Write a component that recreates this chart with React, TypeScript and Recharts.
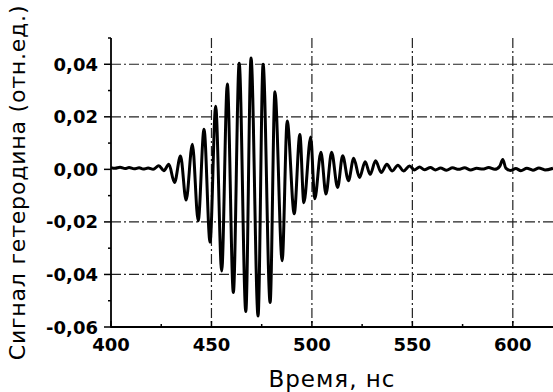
import React from 'react';
import { LineChart, Line, XAxis, YAxis, CartesianGrid } from 'recharts';

const timeNs = [
  400, 402, 404.5, 407, 409, 411.5, 414, 416, 418.5, 421,
  423.8, 426.3, 428.8, 431.6, 434.6, 437.4, 440.5, 443.4, 446.3, 449.3,
  452.1, 455.1, 457.9, 460.9, 463.8, 467.1, 469.7, 473.2, 475.7, 479.2,
  481.6, 485.2, 487.7, 491.2, 494.0, 496.0, 499.4, 501.4, 504.5, 507.0,
  509.8, 512.8, 515.3, 518.2, 520.8, 523.7, 526.5, 529.0, 531.7, 534.5,
  537.3, 540.0, 542.8, 545.6, 548.6, 551.1, 553.6, 556, 559, 561.5,
  564, 567, 570, 573, 576, 579, 582, 585, 588, 591,
  593.5, 595, 596.5, 599, 601.5, 604, 607, 610, 613, 616, 620,
];

const signal = [
  0.0006, 0.0004, 0.0008, 0.0003, 0.0007, 0.0002, 0.0006, 0.0001, 0.0005, 0.0,
  0.0014, -0.0005, 0.0019, -0.005, 0.0051, -0.0117, 0.0096, -0.0196, 0.0153, -0.0277,
  0.024, -0.0387, 0.0325, -0.0469, 0.0404, -0.0541, 0.0424, -0.0558, 0.04, -0.0507,
  0.0295, -0.0348, 0.0184, -0.0169, 0.0133, -0.0127, 0.0123, -0.0112, 0.0065, -0.0094,
  0.0065, -0.0069, 0.0052, -0.0043, 0.0042, -0.0031, 0.0029, -0.0019, 0.0033, -0.0012,
  0.0019, -0.0006, 0.0016, -0.0006, 0.0013, -0.0002, 0.0009, -0.0001, 0.0007, -0.0002,
  0.0005, -0.0003, 0.0006, 0.0, 0.0006, -0.0002, 0.0004, 0.0001, 0.0007, 0.0,
  0.0012, 0.0038, 0.0005, -0.0004, 0.0003, -0.0005, 0.0004, -0.0003, 0.0005, -0.0002, 0.0004,
];

const xTicks = [400, 425, 450, 475, 500, 525, 550, 575, 600];
const xLabels = [400, 450, 500, 550, 600];
const yTicks = [-0.06, -0.05, -0.04, -0.03, -0.02, -0.01, 0, 0.01, 0.02, 0.03, 0.04, 0.05];
const yLabels = [-0.06, -0.04, -0.02, 0, 0.02, 0.04];
const xGrid = [450, 500, 550, 600];
const yGrid = [-0.04, -0.02, 0.02, 0.04];
const xTitle = 'Время, нс';
const yTitle = 'Сигнал гетеродина (отн.ед.)';

const data = timeNs.map((t, i) => ({ t, v: signal[i] }));

const FONT = '"DejaVu Sans", sans-serif';

const XTick = (props: any) => {
  const { x, y, payload } = props;
  const major = xLabels.includes(payload.value);
  return (
    <g>
      <line x1={x} x2={x} y1={y + 1} y2={y - (major ? 6 : 3)} stroke="#000" strokeWidth={1.5} />
      {major && (
        <text x={x} y={y + 24} textAnchor="middle" fontFamily={FONT} fontWeight="bold" fontSize={18} fill="#000">
          {payload.value}
        </text>
      )}
    </g>
  );
};

const YTick = (props: any) => {
  const { x, y, payload } = props;
  const major = yLabels.some((l) => Math.abs(l - payload.value) < 1e-9);
  return (
    <g>
      <line x1={x} x2={x - (major ? 7 : 3)} y1={y} y2={y} stroke="#000" strokeWidth={1.5} />
      {major && (
        <text x={x - 13} y={y + 6.5} textAnchor="end" fontFamily={FONT} fontWeight="bold" fontSize={18} fill="#000">
          {payload.value.toFixed(2).replace('.', ',')}
        </text>
      )}
    </g>
  );
};

export default function App() {
  return (
    <div style={{ position: 'absolute', left: 0, top: 0, width: 553, height: 392, background: '#fff' }}>
      <LineChart width={553} height={392} data={data} margin={{ top: 38, right: 0, bottom: 35, left: 0 }}>
        <CartesianGrid
          horizontalValues={yGrid}
          verticalValues={xGrid}
          stroke="#222"
          strokeWidth={1.2}
          strokeDasharray="10 3 2 3"
        />
        <XAxis
          dataKey="t"
          type="number"
          domain={[400, 620]}
          allowDataOverflow
          ticks={xTicks}
          interval={0}
          height={30}
          tickSize={0}
          tickMargin={0}
          tickLine={false}
          tick={<XTick />}
          axisLine={{ stroke: '#000', strokeWidth: 1.8 }}
          label={{
            value: xTitle,
            position: 'bottom',
            offset: 14,
            style: { fontFamily: FONT, fontSize: 23, letterSpacing: 1, fill: '#000', textAnchor: 'middle' },
          }}
        />
        <YAxis
          type="number"
          domain={[-0.06, 0.05]}
          allowDataOverflow
          ticks={yTicks}
          interval={0}
          width={111}
          tickSize={0}
          tickMargin={0}
          tickLine={false}
          tick={<YTick />}
          axisLine={{ stroke: '#000', strokeWidth: 1.8 }}
          label={{
            value: yTitle,
            angle: -90,
            position: 'insideLeft',
            offset: 17,
            style: { fontFamily: FONT, fontSize: 22, letterSpacing: 0.8, fill: '#000', textAnchor: 'middle' },
          }}
        />
        <Line
          dataKey="v"
          type="monotone"
          stroke="#000"
          strokeWidth={3}
          dot={false}
          isAnimationActive={false}
        />
      </LineChart>
    </div>
  );
}
